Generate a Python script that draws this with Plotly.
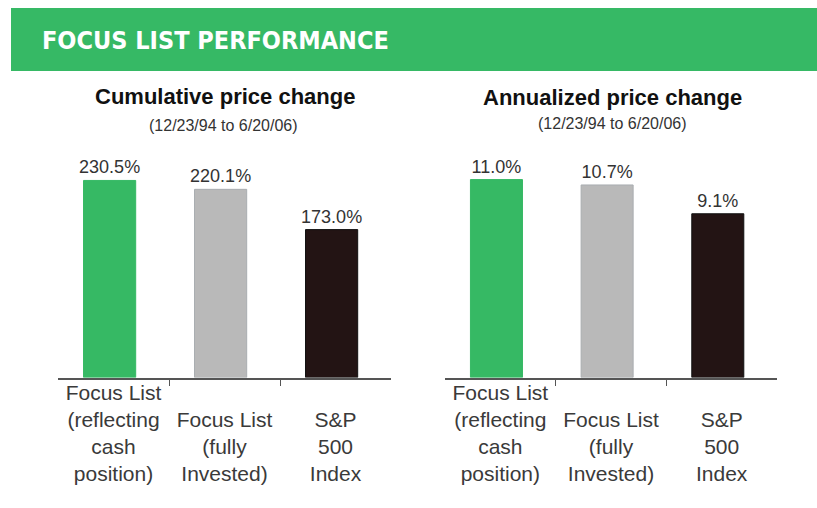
import plotly.graph_objects as go

W, H = 817, 508

categories = ["Focus List<br>(reflecting<br>cash<br>position)",
              " <br>Focus List<br>(fully<br>Invested)",
              " <br>S&P<br>500<br>Index"]
cumulative = [230.5, 220.1, 173.0]
annualized = [11.0, 10.7, 9.1]
bar_colors = ["#36b964", "#b9b9b9", "#231414"]
line_colors = ["#36b964", "#a9adb0", "#111111"]

header = "FOCUS LIST PERFORMANCE"
titles = ["Cumulative price change", "Annualized price change"]
subtitle = "(12/23/94 to 6/20/06)"

def px(x):
    return x / W

def py(y):
    return 1 - y / H

FONT = "Liberation Sans"
xpos = [0, 1, 2]

def bars(vals, xa, ya):
    return go.Bar(x=xpos, y=vals, xaxis=xa, yaxis=ya, width=0.47, offset=-0.27,
                  marker=dict(color=bar_colors, line=dict(color=line_colors, width=1)),
                  texttemplate="%{y:.1f}%", textposition="outside", cliponaxis=False,
                  constraintext="none",
                  textfont=dict(family=FONT, size=18, color="#333333"),
                  showlegend=False, hoverinfo="skip")

fig = go.Figure()
fig.add_trace(bars(cumulative, "x", "y"))
fig.add_trace(bars(annualized, "x2", "y2"))

ydom = [py(377.5), py(140)]
base_x = dict(range=[-0.5, 2.5], showline=True, linecolor="#555555", linewidth=1.5,
              ticks="outside", tickvals=[0.5, 1.5], ticklen=7, tickcolor="#555555",
              tickwidth=1, showticklabels=False, showgrid=False, zeroline=False,
              fixedrange=True)
lab_x = dict(range=[-0.5, 2.5], tickvals=xpos, ticktext=categories, ticks="",
             showline=False, showgrid=False, zeroline=False, side="bottom",
             tickfont=dict(family=FONT, size=21, color="#3a3a3a"), fixedrange=True)

fig.update_layout(
    width=W, height=H, margin=dict(l=0, r=0, t=0, b=0),
    paper_bgcolor="white", plot_bgcolor="white",
    xaxis=dict(domain=[px(58), px(391)], anchor="y", **base_x),
    xaxis2=dict(domain=[px(445), px(777)], anchor="y2", **base_x),
    xaxis3=dict(overlaying="x", anchor="y", **lab_x),
    xaxis4=dict(overlaying="x2", anchor="y2", **lab_x),
    yaxis=dict(domain=ydom, range=[0, 277.8], visible=False, fixedrange=True),
    yaxis2=dict(domain=ydom, range=[0, 13.2], anchor="x2", visible=False, fixedrange=True),
    shapes=[dict(type="rect", xref="paper", yref="paper", x0=px(11), x1=1.0,
                 y0=py(71), y1=py(8), fillcolor="#36b965", line=dict(width=0), layer="below")],
)

# invisible traces so the label axes render
fig.add_trace(go.Scatter(x=xpos, y=[0, 0, 0], xaxis="x3", yaxis="y", mode="markers",
                         marker=dict(opacity=0), showlegend=False, hoverinfo="skip"))
fig.add_trace(go.Scatter(x=xpos, y=[0, 0, 0], xaxis="x4", yaxis="y2", mode="markers",
                         marker=dict(opacity=0), showlegend=False, hoverinfo="skip"))

ann = [
    dict(text="<b>" + header + "</b>", x=px(215), y=py(41),
         font=dict(family="DejaVu Sans Condensed, Liberation Sans", size=25, color="white")),
    dict(text="<b>" + titles[0] + "</b>", x=px(225), y=py(96),
         font=dict(family=FONT, size=22, color="#111111")),
    dict(text=subtitle, x=px(224), y=py(125),
         font=dict(family=FONT, size=16, color="#333333")),
    dict(text="<b>" + titles[1] + "</b>", x=px(612), y=py(97),
         font=dict(family=FONT, size=22, color="#111111")),
    dict(text=subtitle, x=px(612), y=py(123),
         font=dict(family=FONT, size=16, color="#333333")),
]
for a in ann:
    a.update(xref="paper", yref="paper", showarrow=False, xanchor="center", yanchor="middle")
fig.update_layout(annotations=ann)

fig.write_html("out.html", config={"displayModeBar": False},
               post_script="document.body.style.margin='0';")
